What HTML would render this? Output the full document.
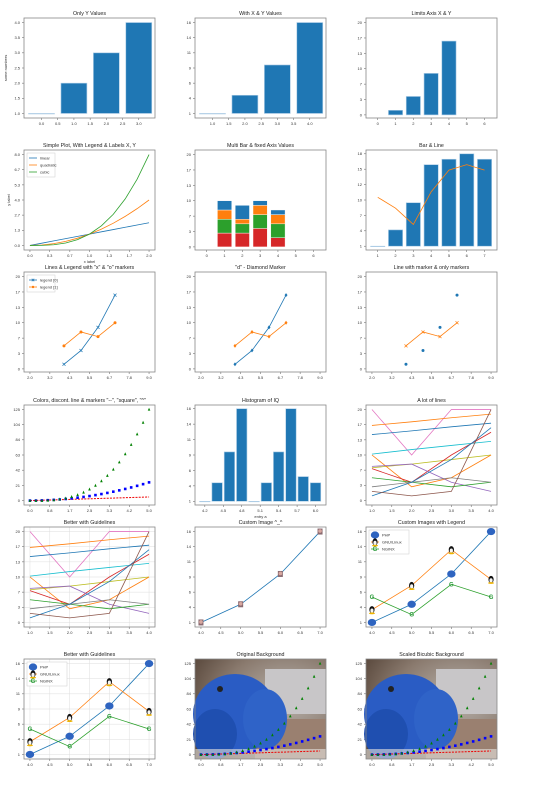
<!DOCTYPE html>
<html><head><meta charset="utf-8"><style>
body{margin:0;background:#fff}
svg{display:block;font-family:"Liberation Sans",sans-serif}
</style></head><body>
<svg id="c" width="538" height="785" viewBox="0 0 538 785" xmlns="http://www.w3.org/2000/svg">
<defs>
<radialGradient id="bg" cx="0.7" cy="0.4" r="0.8"><stop offset="0" stop-color="#b9b3ad"/><stop offset="0.6" stop-color="#8a7a6e"/><stop offset="1" stop-color="#5b4a3e"/></radialGradient>
</defs>
</svg>
<script>
// ---------- data ----------
const bar1X=[0,1,2,3], bar1Y=[1,2,3,4];
const bar2X=[1,2,3,4], bar2Y=[1,4,9,16];
const bar3X=[1,2,3,4], bar3Y=[1,4,9,16];
const lineX=[0,0.2,0.4,0.6,0.8,1,1.2,1.4,1.6,1.8,2];
const linY=[0,0.2,0.4,0.6,0.8,1,1.2,1.4,1.6,1.8,2];
const quadY=[0,0.04,0.16,0.36,0.64,1,1.44,1.96,2.56,3.24,4];
const cubY=[0,0.008,0.064,0.216,0.512,1,1.728,2.744,4.096,5.832,8];
const stackX=[1,2,3,4];
const stRed=[3,3,4,2], stGreen=[3,2,3,3], stOrange=[2,1,2,2], stBlue=[2,3,1,1];
const blX=[1,2,3,4,5,6,7], blBars=[1,4,9,16,17,18,17], blLine=[10,8,5,11,15,16,15];
const mX=[4,5,6,7], mA=[1,4,9,16], mB=[5,8,7,10];
const tX=[0,0.25,0.5,0.75,1,1.25,1.5,1.75,2,2.25,2.5,2.75,3,3.25,3.5,3.75,4,4.25,4.5,4.75,5];
const tSq=[0,0.06,0.25,0.56,1,1.56,2.25,3.06,4,5.06,6.25,7.56,9,10.56,12.25,14.06,16,18.06,20.25,22.56,25];
const tCu=[0,0.02,0.13,0.42,1,1.95,3.38,5.36,8,11.39,15.63,20.8,27,34.33,42.88,52.73,64,76.77,91.13,107.17,125];
const histX=[4.2,4.4,4.6,4.8,5.0,5.2,5.4,5.6,5.8,6.0], histY=[1,4,9,16,1,4,9,16,5,4];
const manyX=[1,2,3,4];
const manyLines=[
 ["#e377c2",[20,10,20,20]],["#ff7f0e",[16.5,17.3,18.2,19]],["#1f77b4",[14.5,15.3,16.2,17]],
 ["#17becf",[10.2,11.2,12.1,13]],["#bcbd22",[7.2,8,9,10]],["#ff7f0e",[10,3,5,10]],
 ["#d62728",[7,4,10,15]],["#9467bd",[7.5,8,4,2]],["#2ca02c",[5,4,3,4]],
 ["#7f7f7f",[3,4,5,4]],["#1f77b4",[1,4,9,16]],["#8c564b",[2,1,2,20]]];
const imgA=[1,4,9,16], imgB=[3.1,7.1,13,8.1], imgC=[5.2,2.3,7.3,5.2];

// ---------- helpers ----------
const S=document.getElementById('c'), NS='http://www.w3.org/2000/svg';
function el(t,a,p){const e=document.createElementNS(NS,t);for(const k in a)e.setAttribute(k,a[k]);(p||S).appendChild(e);return e;}
const W=131,H=100;
const cols=[24,195,366], rows=[18,150,272,405,527,659];
function panel(name,c,r,xl,yl,xt,xtl,yt,ytl,title,grid){
  const x0=cols[c],y0=rows[r];
  const g=el('g',{});  
  const sx=v=>x0+(v-xl[0])/(xl[1]-xl[0])*W, sy=v=>y0+H-(v-yl[0])/(yl[1]-yl[0])*H;
  const t=el('text',{x:x0+W/2,y:y0-3,'font-size':5.3,'text-anchor':'middle',fill:'#222'},g);t.textContent=title;
  
  xt.forEach((v,i)=>{const X=sx(v);if(grid)el('line',{x1:X,x2:X,y1:y0,y2:y0+H,stroke:'#ddd','stroke-width':0.5},g);
    el('line',{x1:X,x2:X,y1:y0+H,y2:y0+H+2,stroke:'#555','stroke-width':0.5},g);
    const tt=el('text',{x:X,y:y0+H+7,'font-size':4,'text-anchor':'middle',fill:'#333'},g);tt.textContent=xtl[i];});
  yt.forEach((v,i)=>{const Y=sy(v);if(grid)el('line',{x1:x0,x2:x0+W,y1:Y,y2:Y,stroke:'#ddd','stroke-width':0.5},g);
    el('line',{x1:x0-2,x2:x0,y1:Y,y2:Y,stroke:'#555','stroke-width':0.5},g);
    const tt=el('text',{x:x0-4,y:Y+1.4,'font-size':4,'text-anchor':'end',fill:'#333'},g);tt.textContent=ytl[i];});
  const fr=el('rect',{x:x0,y:y0,width:W,height:H,fill:'none',stroke:'#888','stroke-width':0.8},g);
  return {g,sx,sy,x0,y0,fr};
}
function bars(p,xs,ys,base,w,col){xs.forEach((x,i)=>{const b=el('rect',{x:p.sx(x-w/2),y:Math.min(p.sy(ys[i]),p.sy(base)),width:p.sx(x+w/2)-p.sx(x-w/2),height:Math.max(Math.abs(p.sy(base)-p.sy(ys[i])),0.5),fill:col||'#1f77b4',stroke:'#aecde6','stroke-width':0.6},p.g);
  });}
function line(p,xs,ys,col,w,dash){const l=el('polyline',{points:xs.map((x,i)=>p.sx(x)+','+p.sy(ys[i])).join(' '),fill:'none',stroke:col,'stroke-width':w||0.8,'stroke-dasharray':dash||'none'},p.g);
  }
function mark(p,xs,ys,kind,col,s){xs.forEach((x,i)=>{const X=p.sx(x),Y=p.sy(ys[i]);s=s||1.5;let m;
  if(kind=='o')m=el('circle',{cx:X,cy:Y,r:s,fill:col},p.g);
  else if(kind=='s')m=el('rect',{x:X-s,y:Y-s,width:2*s,height:2*s,fill:col},p.g);
  else if(kind=='^')m=el('polygon',{points:`${X},${Y-s*1.3} ${X-s},${Y+s} ${X+s},${Y+s}`,fill:col},p.g);
  else if(kind=='D')m=el('polygon',{points:`${X},${Y-s*1.3} ${X+s},${Y} ${X},${Y+s*1.3} ${X-s},${Y}`,fill:col},p.g);
  else if(kind=='x')m=el('path',{d:`M${X-s} ${Y-s}L${X+s} ${Y+s}M${X-s} ${Y+s}L${X+s} ${Y-s}`,stroke:col,'stroke-width':0.7},p.g);
  else if(kind=='php')m=el('ellipse',{cx:X,cy:Y,rx:4.2,ry:3.6,fill:'#2e64c0'},p.g);
  else if(kind=='tux'){m=el('g',{},p.g);el('ellipse',{cx:X,cy:Y,rx:2.6,ry:3.6,fill:'#111'},m);el('ellipse',{cx:X,cy:Y+1,rx:1.6,ry:2.2,fill:'#f5f5f5'},m);el('ellipse',{cx:X,cy:Y+3.6,rx:3,ry:0.9,fill:'#f0b400'},m);}
  else if(kind=='ngx'){m=el('text',{x:X,y:Y+2,'font-size':6,'font-weight':'bold','text-anchor':'middle',fill:'#2a9a3a'},p.g);m.textContent='G';}
  else if(kind=='face'){m=el('g',{},p.g);el('rect',{x:X-2.5,y:Y-3,width:5,height:6,fill:'#8a6a70'},m);el('circle',{cx:X,cy:Y-0.5,r:1.8,fill:'#d9a8a0'},m);}
  });}
function legend(p,items,w){const x=p.x0+3,y=p.y0+3;const r=el('rect',{x,y,width:w,height:items.length*7+3,fill:'#fff',stroke:'#ccc','stroke-width':0.5},p.g);
  
  items.forEach((it,i)=>{const Y=y+5+i*7;el('line',{x1:x+2,x2:x+10,y1:Y,y2:Y,stroke:it[1],'stroke-width':0.8},p.g);
   if(it[2]){const q={x0:0,sx:v=>v,sy:v=>v,g:p.g};mark(q,[x+6],[Y],it[2],it[1],1.2);}
   const t=el('text',{x:x+13,y:Y+1.5,'font-size':4,fill:'#333'},p.g);t.textContent=it[0];
   });}
const f=(a,d)=>a.map(v=>v.toFixed(d));
const y20=[0,3.33,6.67,10,13.33,16.67,20], y20l=['0','3','7','10','13','17','20'];
const y116=[1,3.5,6,8.5,11,13.5,16], y116l=['1','4','6','9','11','14','16'];
const x29=[2,3.17,4.33,5.5,6.67,7.83,9], x29l=['2.0','3.2','4.3','5.5','6.7','7.8','9.0'];
const x05=[0,0.83,1.67,2.5,3.33,4.17,5], x05l=['0.0','0.8','1.7','2.5','3.3','4.2','5.0'];
const y125=[0,20.8,41.7,62.5,83.3,104.2,125], y125l=['0','21','42','63','84','104','125'];
const x47=[4,4.5,5,5.5,6,6.5,7], x47l=f(x47,1);

// 1
let p=panel('only-y-values',0,0,[-0.54,3.5],[0.85,4.15],[0,0.5,1,1.5,2,2.5,3],f([0,0.5,1,1.5,2,2.5,3],1),[1,1.5,2,2.5,3,3.5,4],f([1,1.5,2,2.5,3,3.5,4],1),'Only Y Values');
bars(p,bar1X,bar1Y,1,0.8);
let yl=el('text',{x:0,y:0,'font-size':4,'text-anchor':'middle',fill:'#333',transform:`translate(${p.x0-17},${p.y0+50}) rotate(-90)`},p.g);yl.textContent='some numbers';
// 2
p=panel('with-x-y-values',1,0,[0.46,4.5],[0.25,16.75],[1,1.5,2,2.5,3,3.5,4],f([1,1.5,2,2.5,3,3.5,4],1),y116,y116l,'With X & Y Values');
bars(p,bar2X,bar2Y,1,0.8);
// 3
p=panel('limits-axis-x-y',2,0,[-0.66,6.7],[-0.67,21],[0,1,2,3,4,5,6],['0','1','2','3','4','5','6'],y20,y20l,'Limits Axis X & Y');
bars(p,bar3X,bar3Y,0,0.8);
// 4
p=panel('simple-plot',0,1,[-0.1,2.1],[-0.4,8.4],[0,0.33,0.67,1,1.33,1.67,2],['0.0','0.3','0.7','1.0','1.3','1.7','2.0'],[0,1.33,2.67,4,5.33,6.67,8],['0.0','1.3','2.7','4.0','5.3','6.7','8.0'],'Simple Plot, With Legend & Labels X, Y');
line(p,lineX,linY,'#1f77b4');line(p,lineX,quadY,'#ff7f0e');line(p,lineX,cubY,'#2ca02c');
legend(p,[['linear','#1f77b4'],['quadratic','#ff7f0e'],['cubic','#2ca02c']],28);
let xl=el('text',{x:p.x0+W/2,y:p.y0+H+13,'font-size':4,'text-anchor':'middle',fill:'#333'},p.g);xl.textContent='x label';
yl=el('text',{x:0,y:0,'font-size':4,'text-anchor':'middle',fill:'#333',transform:`translate(${p.x0-14},${p.y0+50}) rotate(-90)`},p.g);yl.textContent='y label';
// 5
p=panel('multi-bar',1,1,[-0.66,6.7],[-0.67,21],[0,1,2,3,4,5,6],['0','1','2','3','4','5','6'],y20,y20l,'Multi Bar & fixed Axis Values');
{let b=stackX.map(()=>0);[[stRed,'#d62728'],[stGreen,'#2ca02c'],[stOrange,'#ff7f0e'],[stBlue,'#1f77b4']].forEach(([s,c])=>{const top=s.map((v,i)=>b[i]+v);
 stackX.forEach((x,i)=>{const r=el('rect',{x:p.sx(x-0.4),y:p.sy(top[i]),width:p.sx(0.8)-p.sx(0),height:p.sy(b[i])-p.sy(top[i]),fill:c,stroke:'#fff','stroke-width':0.4},p.g);});b=top;});}
// 6
p=panel('bar-and-line',2,1,[0.34,7.7],[0.3,18.7],[1,2,3,4,5,6,7],['1','2','3','4','5','6','7'],[1,3.83,6.67,9.5,12.33,15.17,18],['1','4','7','10','12','15','18'],'Bar & Line');
bars(p,blX,blBars,1,0.8);line(p,blX,blLine,'#ff7f0e');
// 7
p=panel('lines-legend-markers',0,2,[1.65,9.35],[-0.67,21],x29,x29l,y20,y20l,'Lines & Legend with "x" & "o" markers');
line(p,mX,mA,'#1f77b4');mark(p,mX,mA,'x','#1f77b4');line(p,mX,mB,'#ff7f0e');mark(p,mX,mB,'o','#ff7f0e');
legend(p,[['legend [0]','#1f77b4','x'],['legend [1]','#ff7f0e','o']],28);
// 8
p=panel('diamond-marker',1,2,[1.65,9.35],[-0.67,21],x29,x29l,y20,y20l,'"d" - Diamond Marker');
line(p,mX,mA,'#1f77b4');mark(p,mX,mA,'D','#1f77b4');line(p,mX,mB,'#ff7f0e');mark(p,mX,mB,'D','#ff7f0e');
// 9
p=panel('line-and-markers',2,2,[1.65,9.35],[-0.67,21],x29,x29l,y20,y20l,'Line with marker & only markers');
mark(p,mX,mA,'o','#1f77b4');line(p,mX,mB,'#ff7f0e');mark(p,mX,mB,'x','#ff7f0e');
// 10
function scatter3(p){line(p,tX,tX,'#e00',1,'2,1.2');mark(p,tX,tSq,'s','#0000ff',1.3);mark(p,tX,tCu,'^','#008000',1.3);}
p=panel('colors-discontinuous',0,3,[-0.25,5.25],[-6,131],x05,x05l,y125,y125l,'Colors, discont. line & markers "--", "square", "^"');
scatter3(p);
// 11
p=panel('histogram-iq',1,3,[4.04,6.17],[0.4,16.6],[4.2,4.5,4.8,5.1,5.4,5.7,6.0],['4.2','4.5','4.8','5.1','5.4','5.7','6.0'],y116,y116l,'Histogram of IQ');
bars(p,histX,histY,1,0.17);
xl=el('text',{x:p.x0+W/2,y:p.y0+H+13,'font-size':4,'text-anchor':'middle',fill:'#333'},p.g);xl.textContent='entry a';
// 12,13
function many(p){manyLines.forEach(([c,ys])=>line(p,manyX,ys,c,0.8));}
const x14=[1,1.5,2,2.5,3,3.5,4], x14l=f(x14,1);
p=panel('a-lot-of-lines',2,3,[0.85,4.15],[-1,21],x14,x14l,y20,y20l,'A lot of lines');many(p);
p=panel('better-with-guidelines-lines',0,4,[0.85,4.15],[-1,21],x14,x14l,y20,y20l,'Better with Guidelines',true);many(p);
// 14
p=panel('custom-image',1,4,[3.85,7.15],[0.25,16.75],x47,x47l,y116,y116l,'Custom Image ^_^');
line(p,mX,imgA,'#1f77b4');mark(p,mX,imgA,'face');
// 15,16
function imgs(p){line(p,mX,imgA,'#1f77b4');line(p,mX,imgB,'#ff7f0e');line(p,mX,imgC,'#2ca02c');
 mark(p,mX,imgA,'php');mark(p,mX,imgB,'tux');mark(p,mX,imgC,'ngx');
 legend(p,[['PHP','#1f77b4','php'],['GNU/Linux','#ff7f0e','tux'],['NGINX','#2ca02c','ngx']],40);}
p=panel('custom-images-legend',2,4,[3.85,7.15],[0.25,16.75],x47,x47l,y116,y116l,'Custom Images with Legend');imgs(p);
p=panel('better-with-guidelines-images',0,5,[3.85,7.15],[0.25,16.75],x47,x47l,y116,y116l,'Better with Guidelines',true);imgs(p);
// 17,18
function photo(p){const g=el('g',{},p.g);
 p.g.insertBefore(g,p.fr);
 el('rect',{x:p.x0,y:p.y0,width:W,height:H,fill:'url(#bg)'},g);
 el('rect',{x:p.x0+70,y:p.y0+10,width:61,height:45,fill:'#c8c6c8'},g);
 el('rect',{x:p.x0+60,y:p.y0+60,width:71,height:40,fill:'#9a8070'},g);
 el('ellipse',{cx:p.x0+40,cy:p.y0+55,rx:42,ry:40,fill:'#2a5cc4'},g);
 el('ellipse',{cx:p.x0+70,cy:p.y0+60,rx:22,ry:30,fill:'#2f63c8'},g);
 el('ellipse',{cx:p.x0+20,cy:p.y0+75,rx:22,ry:25,fill:'#1f4fb0'},g);
 el('circle',{cx:p.x0+25,cy:p.y0+30,r:3,fill:'#222'},g);
 el('rect',{x:p.x0,y:p.y0+90,width:W,height:10,fill:'#e8e4e0',opacity:0.6},g);
 scatter3(p);}
p=panel('original-background',1,5,[-0.25,5.25],[-6,131],x05,x05l,y125,y125l,'Original Background');photo(p);
p=panel('scaled-bicubic-background',2,5,[-0.25,5.25],[-6,131],x05,x05l,y125,y125l,'Scaled Bicubic Background');photo(p);
</script>
</body></html>
